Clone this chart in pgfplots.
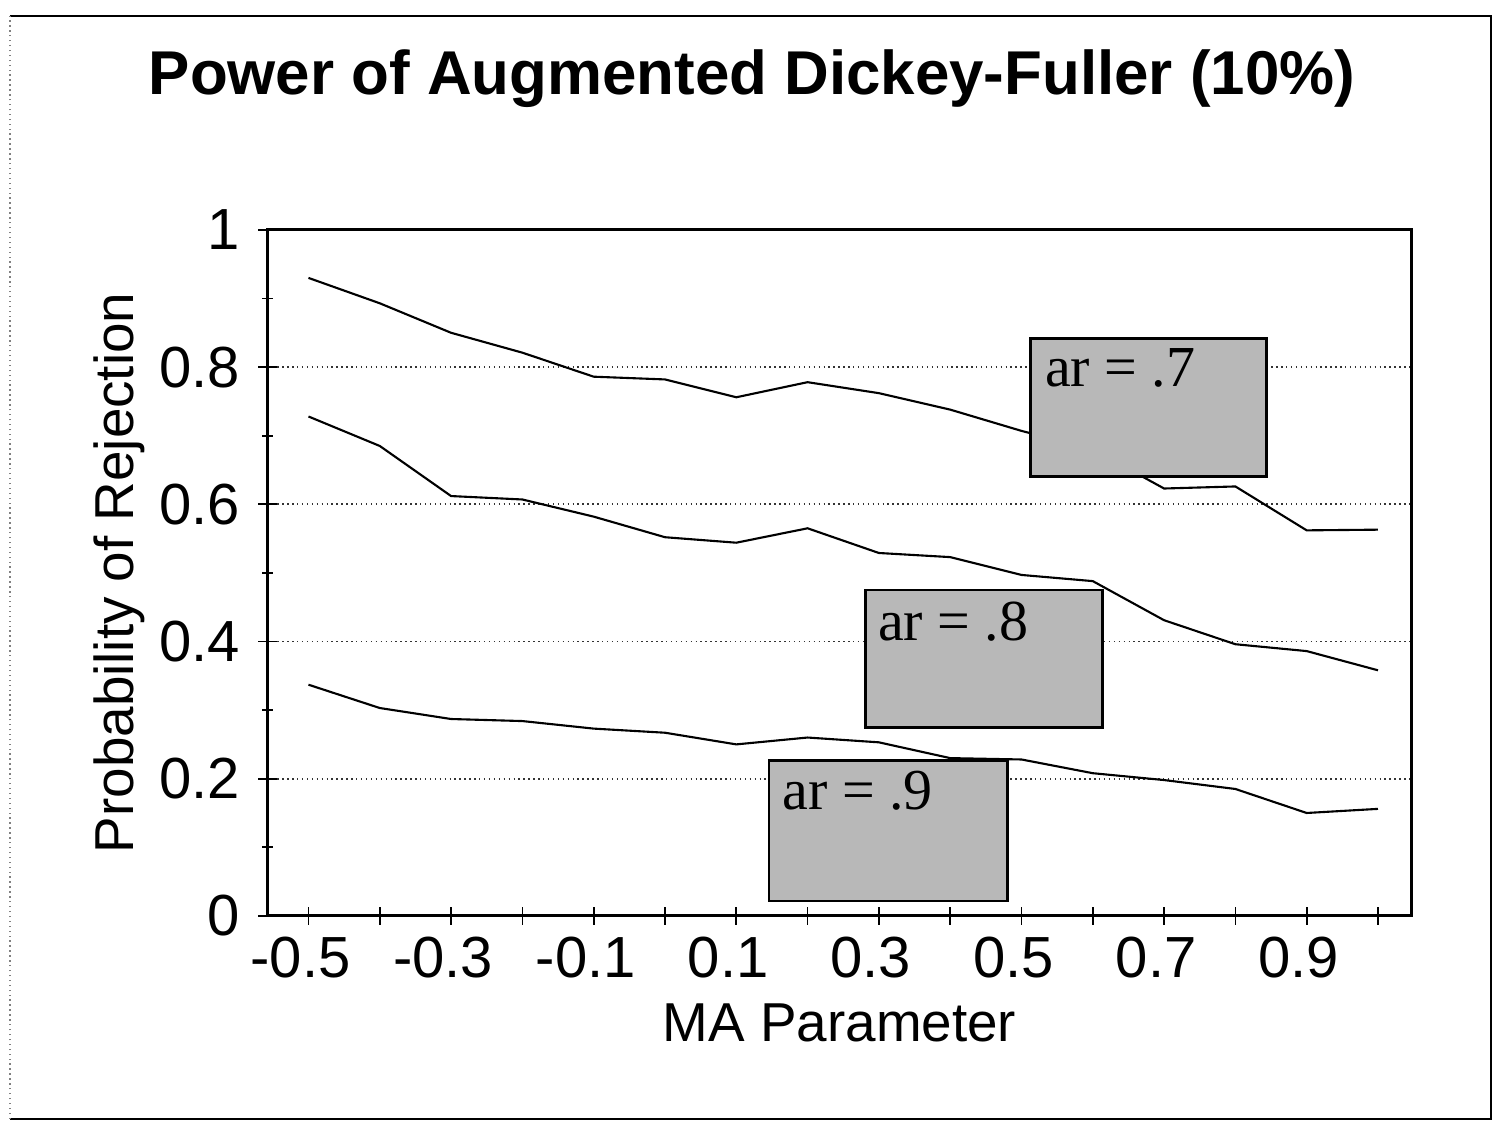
\documentclass[border=0pt]{standalone}
\usepackage{fontspec}
\setmainfont{Liberation Sans}
\newfontfamily\timesfont{Liberation Serif}
\usepackage{pgfplots}
\usepackage{pgfplotstable}
\pgfplotsset{compat=1.18}
\definecolor{boxgray}{gray}{0.72}

\pgfplotstableread{
x y
-0.5 0.930
-0.4 0.893
-0.3 0.850
-0.2 0.821
-0.1 0.786
0.0 0.782
0.1 0.756
0.2 0.778
0.3 0.762
0.4 0.738
0.5 0.707
0.6 0.680
0.7 0.623
0.8 0.626
0.9 0.562
1.0 0.563
}\arseven
\pgfplotstableread{
x y
-0.5 0.728
-0.4 0.685
-0.3 0.612
-0.2 0.607
-0.1 0.582
0.0 0.552
0.1 0.544
0.2 0.565
0.3 0.529
0.4 0.523
0.5 0.497
0.6 0.488
0.7 0.431
0.8 0.396
0.9 0.386
1.0 0.358
}\areight
\pgfplotstableread{
x y
-0.5 0.337
-0.4 0.303
-0.3 0.287
-0.2 0.284
-0.1 0.273
0.0 0.267
0.1 0.250
0.2 0.260
0.3 0.253
0.4 0.230
0.5 0.228
0.6 0.208
0.7 0.198
0.8 0.185
0.9 0.150
1.0 0.156
}\arnine

\begin{document}
\begin{tikzpicture}
\useasboundingbox (0mm,0mm) rectangle (150.6mm,112.9mm);
\draw[line width=0.5pt] (1.0mm,111.3mm) -- (149.1mm,111.3mm) -- (149.1mm,1.0mm) -- (1.0mm,1.0mm);
\draw[line width=0.4pt, densely dotted, gray] (1.0mm,1.0mm) -- (1.0mm,111.3mm);
\node[anchor=base, inner sep=0pt, font=\fontsize{17.6}{20}\selectfont\bfseries] at (75.2mm,103.4mm) {Power of Augmented Dickey-Fuller (10\%)};
\begin{axis}[
  at={(26.75mm,21.31mm)}, anchor=south west,
  scale only axis, width=114.4mm, height=68.6mm,
  xmin=-0.5575, xmax=1.047, ymin=0, ymax=1,
  xtick={-0.5,-0.4,-0.3,-0.2,-0.1,0,0.1,0.2,0.3,0.4,0.5,0.6,0.7,0.8,0.9,1.0},
  xticklabels={-0.5,,-0.3,,-0.1,,0.1,,0.3,,0.5,,0.7,,0.9,},
  ytick={0,0.2,0.4,0.6,0.8,1},
  yticklabels={0,0.2,0.4,0.6,0.8,1},
  minor ytick={0.1,0.3,0.5,0.7,0.9},
  xtick pos=lower, ytick pos=left,
  tick align=center, major tick length=1.8mm, minor tick length=1mm,
  tick style={black, line width=0.5pt},
  ymajorgrids, major grid style={densely dotted, black!80, line width=0.5pt},
  axis line style={line width=0.8pt},
  ticklabel style={font=\fontsize{16.5}{18}\selectfont},
  xticklabel style={xshift=-0.8mm},
  yticklabel style={xshift=-0.6mm},
  xlabel={MA Parameter}, ylabel={Probability of Rejection},
  label style={font=\fontsize{15.6}{18}\selectfont},
  xlabel style={at={(axis description cs:0.5,-0.183)}, anchor=base},
  ylabel style={at={(axis description cs:-0.1168,0.5)}, anchor=base},
]
\addplot[black, line width=0.6pt, mark=none] table[x=x,y=y] {\arseven};
\addplot[black, line width=0.6pt, mark=none] table[x=x,y=y] {\areight};
\addplot[black, line width=0.6pt, mark=none] table[x=x,y=y] {\arnine};
\draw[fill=boxgray, draw=black, line width=0.8pt] (axis cs:0.513,0.640) rectangle (axis cs:0.844,0.842);
\draw[fill=boxgray, draw=black, line width=0.8pt] (axis cs:0.281,0.275) rectangle (axis cs:0.614,0.475);
\draw[fill=boxgray, draw=black, line width=0.8pt] (axis cs:0.146,0.0216) rectangle (axis cs:0.480,0.227);
\node[anchor=base west, inner sep=0pt, font=\timesfont\fontsize{16.5}{18}\selectfont] at (axis cs:0.532,0.772) {ar = .7};
\node[anchor=base west, inner sep=0pt, font=\timesfont\fontsize{16.5}{18}\selectfont] at (axis cs:0.298,0.402) {ar = .8};
\node[anchor=base west, inner sep=0pt, font=\timesfont\fontsize{16.5}{18}\selectfont] at (axis cs:0.164,0.155) {ar = .9};
\end{axis}
\end{tikzpicture}
\end{document}
